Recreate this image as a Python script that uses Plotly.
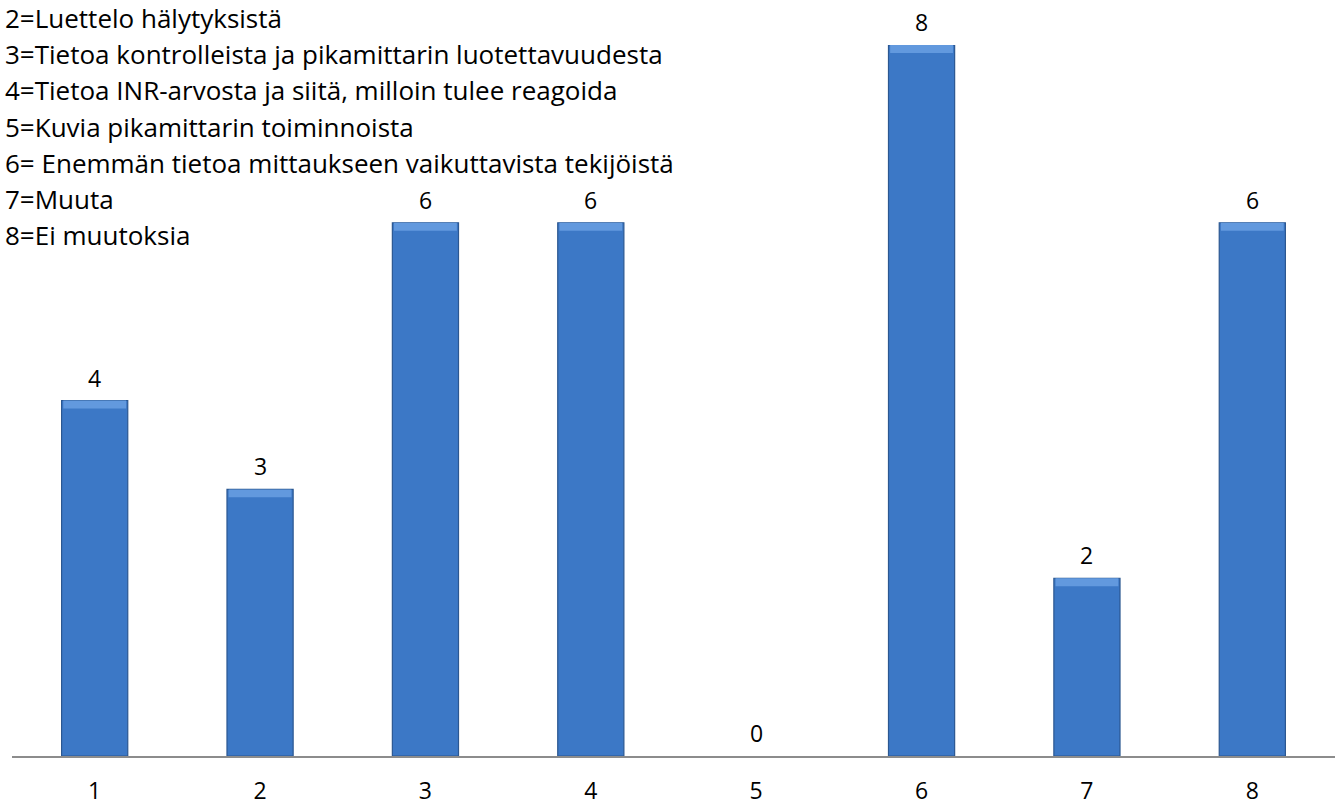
import plotly.graph_objects as go

# Survey answers: how many respondents chose each improvement option
categories = ["1", "2", "3", "4", "5", "6", "7", "8"]
counts = [4, 3, 6, 6, 0, 8, 2, 6]

# Option descriptions shown in the top-left corner
option_lines = [
    "2=Luettelo hälytyksistä",
    "3=Tietoa kontrolleista ja pikamittarin luotettavuudesta",
    "4=Tietoa INR-arvosta ja siitä, milloin tulee reagoida",
    "5=Kuvia pikamittarin toiminnoista",
    "6= Enemmän tietoa mittaukseen vaikuttavista tekijöistä",
    "7=Muuta",
    "8=Ei muutoksia",
]

W, H = 1340, 805
M_L, M_R, M_T, M_B = 12, 5, 45, 49
FONT = "'Open Sans', sans-serif"

fig = go.Figure()

# Main bars (no outline where the count is zero)
fig.add_trace(go.Bar(
    x=categories, y=counts,
    marker=dict(
        color="#3C78C6",
        line=dict(color="#2B5791", width=[1.2 if c > 0 else 0 for c in counts]),
    ),
    width=0.4, hoverinfo="x+y",
))

# Light bevel strip along the top edge of each non-empty bar
bevel = 0.09
fig.add_trace(go.Bar(
    x=categories,
    y=[bevel if c > 0 else 0 for c in counts],
    base=[c - bevel if c > 0 else 0 for c in counts],
    marker=dict(color="#6299DE", line=dict(width=0)),
    width=0.38, hoverinfo="skip",
))

# Value labels above the bars
for i, c in enumerate(counts):
    fig.add_annotation(
        x=i, y=c, text=str(c), showarrow=False,
        yanchor="bottom", yshift=5,
        font=dict(family=FONT, size=23, color="#000000"),
    )

# Option list, one line per annotation
plot_h = H - M_T - M_B
line_top, line_step = 18, 36.2
for i, line in enumerate(option_lines):
    py = line_top + i * line_step
    fig.add_annotation(
        xref="paper", yref="paper",
        x=(3 - M_L) / (W - M_L - M_R), y=(H - M_B - py) / plot_h,
        xanchor="left", yanchor="middle",
        text=line, showarrow=False, align="left",
        font=dict(family=FONT, size=26, color="#000000"),
    )

fig.update_layout(
    width=W, height=H,
    margin=dict(l=M_L, r=M_R, t=M_T, b=M_B),
    paper_bgcolor="white", plot_bgcolor="white",
    barmode="overlay", showlegend=False,
    xaxis=dict(
        type="category", range=[-0.5, 7.5], automargin=False,
        showline=True, linecolor="#8C8C8C", linewidth=2,
        showgrid=False, zeroline=False, ticks="",
        ticklabelstandoff=13,
        tickfont=dict(family=FONT, size=23, color="#000000"),
    ),
    yaxis=dict(
        range=[0, 8], visible=False, showgrid=False, zeroline=False,
        automargin=False,
    ),
)

fig.write_html("out.html")
